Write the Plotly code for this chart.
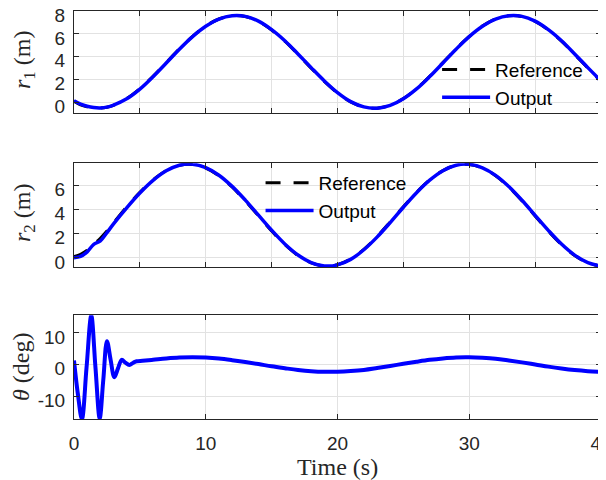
import plotly.graph_objects as go

# ---------------- data ----------------
t_r = [0, 0.5, 1, 1.5, 2, 2.5, 3, 4, 5, 6, 7, 8, 9, 10, 11, 12, 13, 14, 15, 16, 17,
       18, 19, 20, 21, 22, 23, 24, 25, 26, 27, 28, 29, 30, 31, 32, 33, 34, 35, 36,
       37, 38, 39, 40]

r1_ref = [0.10, -0.20, -0.38, -0.48, -0.49, -0.41, -0.24, 0.35, 1.22, 2.30, 3.49, 4.69,
          5.78, 6.68, 7.30, 7.58, 7.52, 7.09, 6.34, 5.36, 4.21, 3.01, 1.85, 0.84, 0.06,
          -0.39, -0.49, -0.24, 0.35, 1.22, 2.30, 3.49, 4.69, 5.78, 6.68, 7.30, 7.58, 7.52,
          7.09, 6.34, 5.36, 4.21, 3.01, 1.85]
r1_out = [0.15, -0.14, -0.33, -0.44, -0.47, -0.40, -0.22, 0.33, 1.18, 2.26, 3.45, 4.66,
          5.76, 6.66, 7.29, 7.58, 7.53, 7.11, 6.37, 5.40, 4.25, 3.05, 1.89, 0.87, 0.08,
          -0.38, -0.49, -0.25, 0.33, 1.19, 2.27, 3.46, 4.66, 5.76, 6.66, 7.29, 7.58, 7.53,
          7.11, 6.37, 5.40, 4.25, 3.05, 1.89]

r2_ref = [0.10, 0.30, 0.63, 1.12, 1.62, 2.22, 2.88, 4.21, 5.40, 6.42, 7.19, 7.63, 7.70,
          7.40, 6.77, 5.84, 4.70, 3.46, 2.22, 1.10, 0.20, -0.41, -0.67, -0.56, -0.09,
          0.71, 1.76, 2.96, 4.21, 5.40, 6.42, 7.19, 7.63, 7.70, 7.40, 6.77, 5.84, 4.70,
          3.46, 2.22, 1.10, 0.20, -0.41, -0.67]
r2_out = [0.02, 0.12, 0.50, 1.12, 1.40, 2.08, 2.80, 4.12, 5.34, 6.38, 7.17, 7.63, 7.72,
          7.43, 6.81, 5.89, 4.76, 3.52, 2.28, 1.15, 0.24, -0.38, -0.66, -0.57, -0.12,
          0.67, 1.71, 2.91, 4.17, 5.37, 6.40, 7.18, 7.63, 7.71, 7.42, 6.80, 5.88, 4.75,
          3.51, 2.27, 1.14, 0.23, -0.39, -0.67]

t_th = [0, 0.3, 0.6, 0.95, 1.31, 1.63, 1.95, 2.22, 2.5, 2.78, 3.06, 3.34, 3.62, 3.9,
        4.2, 4.5, 4.76, 5.2, 6, 7, 8, 9, 10, 11, 12, 13, 14, 15, 16, 17, 18, 19, 20,
        21, 22, 23, 24, 25, 26, 27, 28, 29, 30, 31, 32, 33, 34, 35, 36, 37, 38, 39, 40]
theta = [1.3, -9.5, -17.2, -1.0, 15.5, -1.0, -17.0, -5.0, 7.4, 1.5, -4.0, -1.2, 1.5, 0.6,
         -0.1, 0.6, 1.05, 1.2, 1.5, 1.9, 2.2, 2.3, 2.2, 1.9, 1.4, 0.8, 0.15, -0.55, -1.15,
         -1.7, -2.1, -2.3, -2.25, -2.05, -1.7, -1.1, -0.45, 0.25, 0.9, 1.5, 1.95, 2.25,
         2.3, 2.15, 1.85, 1.3, 0.7, 0.05, -0.65, -1.25, -1.75, -2.1, -2.3]

x_ticks_top = [0, 5, 10, 15, 20, 25, 30, 35, 40]
x_ticks_bottom = [0, 10, 20, 30, 40]
y1_ticks = [0, 2, 4, 6, 8]
y2_ticks = [0, 2, 4, 6]
y3_ticks = [-10, 0, 10]
y3_ticktext = ["-10", "0", "10"]

# ---------------- figure ----------------
INK = "#262626"
GRID = "#e2e2e2"
SANS = "Liberation Sans, Arial, sans-serif"
SERIF = "Liberation Serif, Times New Roman, serif"

fig = go.Figure()

ref_style = dict(color="black", width=3, dash="15px,13px", shape="spline")
out_style = dict(color="#0000ff", width=3.5, shape="spline")

fig.add_trace(go.Scatter(x=t_r, y=r1_ref, mode="lines", name="Reference", line=ref_style,
                         xaxis="x", yaxis="y", legend="legend"))
fig.add_trace(go.Scatter(x=t_r, y=r1_out, mode="lines", name="Output", line=out_style,
                         xaxis="x", yaxis="y", legend="legend"))
fig.add_trace(go.Scatter(x=t_r, y=r2_ref, mode="lines", name="Reference", line=ref_style,
                         xaxis="x2", yaxis="y2", legend="legend2"))
fig.add_trace(go.Scatter(x=t_r, y=r2_out, mode="lines", name="Output", line=out_style,
                         xaxis="x2", yaxis="y2", legend="legend2"))
fig.add_trace(go.Scatter(x=t_th, y=theta, mode="lines", name="theta", showlegend=False,
                         line=dict(color="#0000ff", width=4, shape="spline"),
                         xaxis="x3", yaxis="y3"))

tickfont = dict(family=SANS, size=19, color=INK)
common = dict(showline=True, linecolor=INK, linewidth=1, mirror="allticks",
              ticks="inside", ticklen=5, tickcolor=INK, tickwidth=1,
              showgrid=True, gridcolor=GRID, gridwidth=1, zeroline=False,
              tickfont=tickfont, automargin=False, ticklabeloverflow="allow")
ycommon = dict(common, ticklabelstandoff=4, ticklabelshift=4)

# page has an 8px body margin: figure occupies page x 8..606, y 8..480
# plot area on page: x 74..601, y 11..419 (height 408)
D1 = [0.749, 1.0]
D2 = [0.3725, 0.627]
D3 = [0.0, 0.254]

fig.update_layout(
    width=598, height=472,
    margin=dict(l=66, r=5, t=3, b=61, autoexpand=False),
    paper_bgcolor="white", plot_bgcolor="white",
    xaxis=dict(common, range=[0, 40], tickvals=x_ticks_top, showticklabels=False,
               domain=[0, 1], anchor="y"),
    yaxis=dict(ycommon, range=[-0.95, 8], tickvals=y1_ticks, domain=D1, anchor="x"),
    xaxis2=dict(common, range=[0, 40], tickvals=x_ticks_top, showticklabels=False,
                domain=[0, 1], anchor="y2"),
    yaxis2=dict(ycommon, range=[-0.75, 7.8], tickvals=y2_ticks, domain=D2, anchor="x2"),
    xaxis3=dict(common, range=[0, 40], tickvals=x_ticks_bottom, domain=[0, 1],
                anchor="y3", ticklabelstandoff=7),
    yaxis3=dict(ycommon, range=[-17.2, 15.55], tickvals=y3_ticks, ticktext=y3_ticktext,
                domain=D3, anchor="x3"),
    legend=dict(x=0.689, y=0.903, xanchor="left", yanchor="top",
                bgcolor="rgba(0,0,0,0)", borderwidth=0,
                font=dict(family=SANS, size=19, color="black"),
                itemwidth=48, tracegroupgap=0),
    legend2=dict(x=0.354, y=0.625, xanchor="left", yanchor="top",
                 bgcolor="rgba(0,0,0,0)", borderwidth=0,
                 font=dict(family=SANS, size=19, color="black"),
                 itemwidth=48, tracegroupgap=0),
    showlegend=True,
)

label_font = dict(family=SERIF, size=24, color=INK)
fig.add_annotation(text="<i>r</i><sub>1</sub> (m)", textangle=-90, xref="paper", yref="paper",
                   x=(24 - 74) / 527, y=(419 - 60) / 408, xanchor="center", yanchor="middle",
                   showarrow=False, font=label_font)
fig.add_annotation(text="<i>r</i><sub>2</sub> (m)", textangle=-90, xref="paper", yref="paper",
                   x=(24 - 74) / 527, y=(419 - 213) / 408, xanchor="center", yanchor="middle",
                   showarrow=False, font=label_font)
fig.add_annotation(text="<i>θ</i> (deg)", textangle=-90, xref="paper", yref="paper",
                   x=(21 - 74) / 527, y=(419 - 367) / 408, xanchor="center", yanchor="middle",
                   showarrow=False, font=label_font)
fig.add_annotation(text="Time (s)", xref="paper", yref="paper",
                   x=(337 - 74) / 527, y=(419 - 467) / 408, xanchor="center", yanchor="middle",
                   showarrow=False, font=label_font)

fig.write_html("out.html")
